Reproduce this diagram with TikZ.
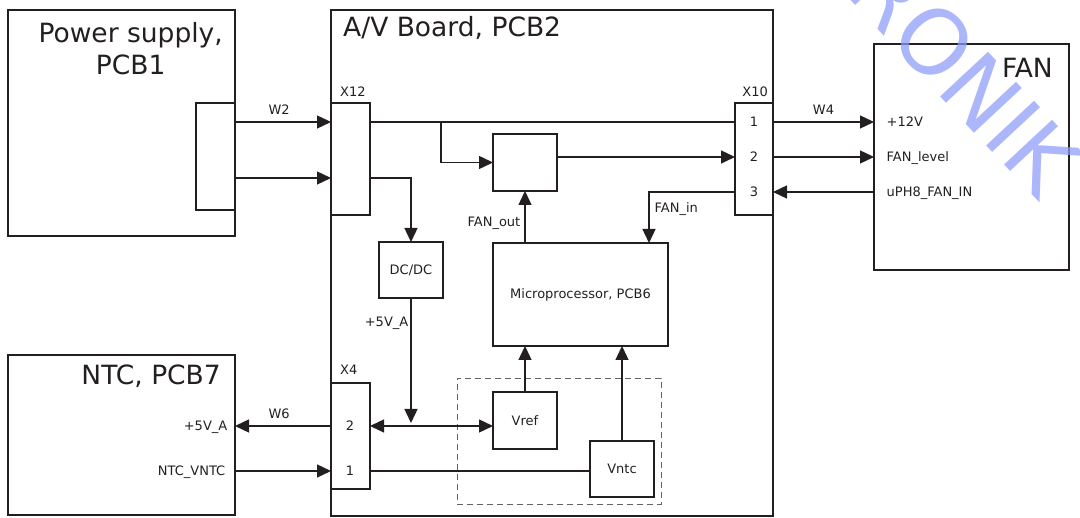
\documentclass[tikz,border=0pt]{standalone}
\usepackage{fontspec}
\setmainfont{DejaVu Sans}
\usetikzlibrary{arrows.meta, calc, positioning}
\definecolor{ink}{HTML}{231F20}
\definecolor{stampblue}{RGB}{140,155,250}
\newcommand{\smalltxt}{\fontsize{13}{15.6}\selectfont}
\newcommand{\bigtxt}{\fontsize{26.5}{32}\selectfont}
\tikzset{
    arr/.style={-{Triangle[length=14pt,width=13pt]}, line width=1.4pt, draw=ink},
    darr/.style={{Triangle[length=14pt,width=13pt]}-{Triangle[length=14pt,width=13pt]}, line width=1.4pt, draw=ink},
    wire/.style={line width=1.3pt, draw=ink},
    board/.style={draw=ink, line width=2pt, inner sep=0pt, outer sep=0pt},
    plug/.style={draw=ink, line width=1.3pt, inner sep=0pt, outer sep=0pt},
    block/.style={draw=ink, line width=1.4pt, inner sep=0pt, outer sep=0pt, font=\smalltxt, text=ink},
    group/.style={draw=ink!70, line width=0.8pt, dash pattern=on 6pt off 4pt, inner sep=0pt},
    title/.style={font=\bigtxt, text=ink, inner sep=0pt},
    tag/.style={font=\smalltxt, text=ink, inner sep=0pt},
    sig/.style={font=\smalltxt, text=ink, inner sep=0pt, text height=9.5pt, text depth=0pt},
    wlabel/.style={sig, above=7pt},
    stamp/.style={font=\fontsize{90}{90}\selectfont, text=stampblue, text opacity=0.72, inner sep=0pt}
}

\begin{document}
\begin{tikzpicture}[x=1pt, y=-1pt]
\useasboundingbox (0,0) rectangle (1080,518);

%boards
\node[board, minimum width=227pt, minimum height=226pt] (ps) at (121.5,123) {};
\node[board, minimum width=442pt, minimum height=506pt] (av) at (552,263) {};
\node[board, minimum width=195pt, minimum height=226pt] (fan) at (971.5,157) {};
\node[board, minimum width=227pt, minimum height=160pt] (ntc) at (121.5,435) {};

\node[title, align=center, anchor=north east] (pstitle) at (223,22) {Power supply,\\PCB1};
\node[title, anchor=base west] (avtitle) at (343,37) {A/V Board, PCB2};
\node[title, anchor=base east] (fantitle) at (1053,78) {FAN};
\node[title, anchor=base east] (ntctitle) at (221,385) {NTC, PCB7};

%plugs
\node[plug, minimum width=39pt, minimum height=107pt] (psplug) at (215.5,156.5) {};
\node[plug, minimum width=39pt, minimum height=112pt] (x12) at (350.5,159) {};
\node[plug, minimum width=38pt, minimum height=112pt] (x10) at (754,159) {};
\node[plug, minimum width=39pt, minimum height=106pt] (x4) at (350.5,436) {};
    \node[tag, anchor=base west] (x12tag) at (340,97) {X12};
    \node[tag, anchor=base east] (x10tag) at (768,97) {X10};
    \node[tag, anchor=base west] (x4tag) at (340,375) {X4};

%pins
\node[sig] (x10a) at (754,122) {1};
\node[sig] (x10b) at (754,157) {2};
\node[sig] (x10c) at (754,192) {3};
\node[sig] (x4b) at (350,426) {2};
\node[sig] (x4a) at (350,471) {1};
\coordinate (x12a) at (350,122);
\coordinate (x12b) at (350,178);
\coordinate (tap) at (441,122);
\coordinate (fandrop) at (649,192);

%blocks
\node[group, minimum width=204pt, minimum height=126pt] (sense) at (559,441) {};
\node[block, minimum width=64pt, minimum height=57pt] (ctrl) at (525,162.5) {};
\node[block, minimum width=64pt, minimum height=56pt] (dcdc) at (411,270) {DC/DC};
\node[block, minimum width=175pt, minimum height=103pt] (mcu) at (580.5,294.5) {Microprocessor, PCB6};
\node[block, minimum width=64pt, minimum height=57pt] (vref) at (525,420.5) {Vref};
\node[block, minimum width=64pt, minimum height=56pt] (vntc) at (622,469) {Vntc};

%power supply -> X12
\draw[arr] (psplug.east |- x12a) -- node[wlabel, pos=0.46]{W2} (x12.west |- x12a);
\draw[arr] (psplug.east |- x12b) -- (x12.west |- x12b);

%A/V board
\draw[wire] (x12.east |- x12a) -- (x10.west |- x10a);
\draw[arr] (tap) |- (ctrl.west);
\draw[arr] (ctrl.east |- x10b) -- (x10.west |- x10b);
\draw[arr] (x12.east |- x12b) -| (dcdc.north);
\draw[arr] (mcu.north -| ctrl.south) -- node[sig, left=4pt, pos=0.41]{FAN\_out} (ctrl.south);
\draw[arr] (x10.west |- x10c) -| node[sig, right=5pt, pos=0.65]{FAN\_in} (mcu.north -| fandrop);
\draw[arr] (dcdc.south) -- node[sig, left=2pt, pos=0.19]{+5V\_A} ($(dcdc.south |- x4b)+(0,-3)$);
\draw[darr] (x4.east |- x4b) -- (vref.west |- x4b);
\draw[arr] (vref.north) -- (vref.north |- mcu.south);
\draw[arr] (vntc.north) -- (vntc.north |- mcu.south);
\draw[wire] (x4.east |- x4a) -- (vntc.west |- x4a);

%X10 -> fan
\draw[arr] (x10.east |- x10a) -- node[wlabel]{W4} (fan.west |- x10a) node[sig, right=12pt]{+12V};
\draw[arr] (x10.east |- x10b) -- (fan.west |- x10b) node[sig, right=12pt]{FAN\_level};
\draw[arr] (fan.west |- x10c) node[sig, right=12pt]{uPH8\_FAN\_IN} -- (x10.east |- x10c);

%X4 -> NTC
\draw[arr] (x4.west |- x4b) -- node[wlabel, pos=0.54]{W6} (ntc.east |- x4b) node[sig, left=7pt]{+5V\_A};
\draw[arr] (ntc.east |- x4a) node[sig, left=9pt]{NTC\_VNTC} -- (x4.west |- x4a);

%watermark
\begin{scope}
    \clip (0,0) rectangle (1080,518);
    \node[stamp, rotate=-47] (wm) at (965,75) {RONIK};
\end{scope}

\end{tikzpicture}
\end{document}
